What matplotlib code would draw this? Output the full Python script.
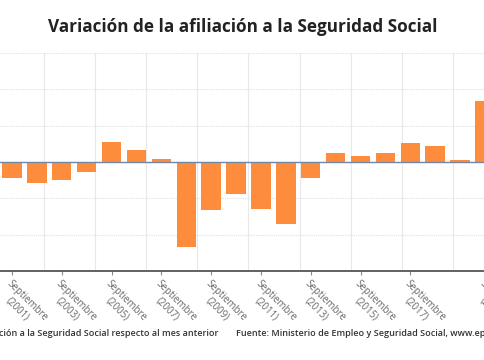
import matplotlib
matplotlib.use("Agg")
import matplotlib.pyplot as plt
import numpy as np

# variación de afiliados en septiembre respecto a agosto
years = [2001, 2002, 2003, 2004, 2005, 2006, 2007, 2008, 2009, 2010,
         2011, 2012, 2013, 2014, 2015, 2016, 2017, 2018, 2019, 2020]
values = [-21500, -28400, -25200, -13200, 27500, 16000, 4000, -117000, -66000, -44500,
          -64700, -85000, -21600, 12000, 8300, 12000, 26000, 22500, 2800, 83500]
tick_years = [2001, 2003, 2005, 2007, 2009, 2011, 2013, 2015, 2017, 2020]

title = 'Variación de la afiliación a la Seguridad Social'
note_left = 'Variación de la afiliación a la Seguridad Social respecto al mes anterior'
note_right = 'Fuente: Ministerio de Empleo y Seguridad Social, www.epdata.es'

plt.rcParams['font.family'] = ['Open Sans', 'DejaVu Sans']

fig = plt.figure(figsize=(4.85, 3.6), dpi=100)
ax = fig.add_axes([0, 1 - 271 / 360, 1, 218 / 360])

ax.bar(years, values, width=0.78, color='#fd8d3c', zorder=3)
ax.axhline(0, color='#7088a6', lw=1.0, zorder=4)

ax.set_xlim(2000.52, 2019.92)
ax.set_ylim(-150000, 150000)

# rejilla
ax.set_yticks(np.arange(-150000, 150001, 50000))
ax.yaxis.grid(True, color='#e2e2e2', lw=0.8, ls=(0, (1, 1)), zorder=0)
for gx in 2002.28 + 2.055 * np.arange(9):
    ax.axvline(gx, color='#e8e8e8', lw=0.8, zorder=0)

for s in ['top', 'right', 'left']:
    ax.spines[s].set_visible(False)
ax.spines['bottom'].set_color('#555555')
ax.spines['bottom'].set_linewidth(1.3)
ax.tick_params(axis='y', left=False, labelleft=False)

ax.set_xticks(tick_years)
labels = ax.set_xticklabels(['Septiembre\n(%d)' % y for y in tick_years], rotation=-45,
                            ha='left', va='top', rotation_mode='anchor', fontsize=7,
                            color='#666666')
for lb in labels:
    lb.set_multialignment('center')
ax.tick_params(axis='x', length=3, width=0.8, color='#888888', pad=2)

fig.text(0.5, 1 - 27 / 360, title, ha='center', va='center', fontsize=12.3,
         fontweight='bold', color='#222222')
fig.text(218 / 485, 1 - 334 / 360, note_left, ha='right', va='center', fontsize=6.5,
         fontweight='semibold', color='#333333')
fig.text(236 / 485, 1 - 334 / 360, note_right, ha='left', va='center', fontsize=6.5,
         fontweight='semibold', color='#333333')

fig.savefig('out.png', dpi=100)
